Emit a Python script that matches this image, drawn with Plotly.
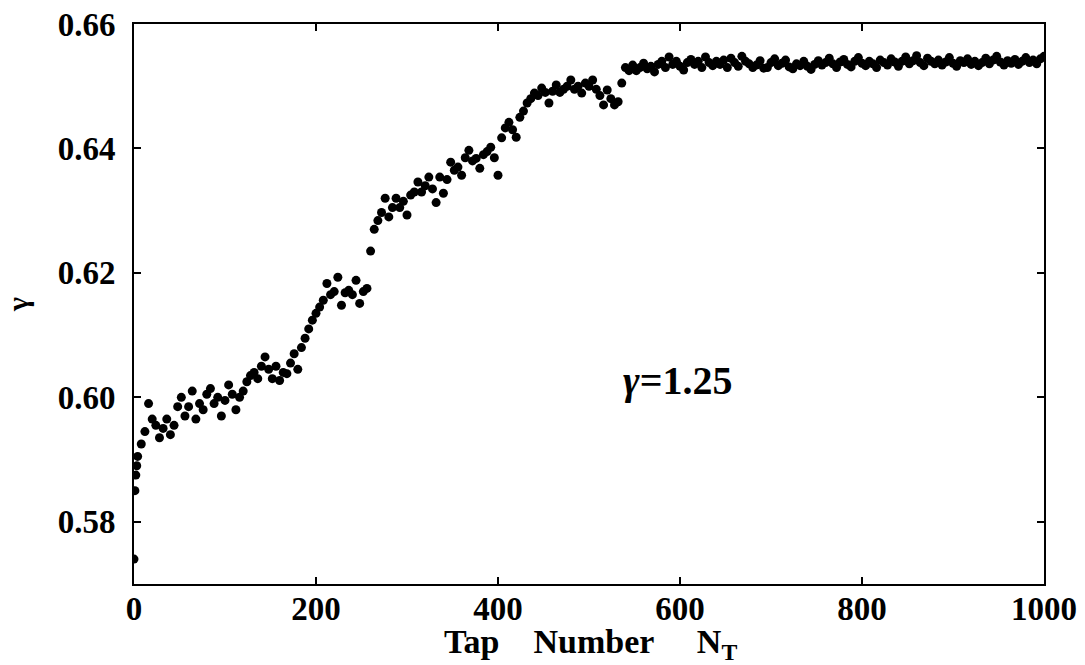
import plotly.graph_objects as go

taps = [0, 1, 2, 3] + list(range(4, 1001, 4))

gamma_vals = [
    0.5740, 0.5850, 0.5875, 0.5890,
    # 4 .. 40
    0.5905, 0.5925, 0.5945, 0.5990, 0.5965, 0.5955, 0.5935, 0.5950, 0.5965, 0.5940,
    # 44 .. 80
    0.5955, 0.5985, 0.6000, 0.5970, 0.5985, 0.6010, 0.5965, 0.5990, 0.5980, 0.6005,
    # 84 .. 120
    0.6014, 0.5990, 0.6000, 0.5970, 0.5995, 0.6020, 0.6005, 0.5980, 0.6000, 0.6010,
    # 124 .. 160
    0.6025, 0.6035, 0.6040, 0.6030, 0.6050, 0.6065, 0.6045, 0.6030, 0.6050, 0.6027,
    # 164 .. 200
    0.6040, 0.6038, 0.6055, 0.6070, 0.6045, 0.6080, 0.6095, 0.6110, 0.6124, 0.6135,
    # 204 .. 240
    0.6145, 0.6156, 0.6183, 0.6165, 0.6170, 0.6193, 0.6148, 0.6168, 0.6172, 0.6165,
    # 244 .. 280
    0.6188, 0.6151, 0.6170, 0.6175, 0.6235, 0.6270, 0.6284, 0.6297, 0.6320, 0.6290,
    # 284 .. 320
    0.6305, 0.6320, 0.6305, 0.6315, 0.6293, 0.6325, 0.6330, 0.6346, 0.6330, 0.6340,
    # 324 .. 360
    0.6354, 0.6335, 0.6313, 0.6354, 0.6328, 0.6350, 0.6378, 0.6365, 0.6370, 0.6357,
    # 364 .. 400
    0.6385, 0.6397, 0.6380, 0.6384, 0.6368, 0.6390, 0.6395, 0.6402, 0.6385, 0.6357,
    # 404 .. 440
    0.6417, 0.6433, 0.6442, 0.6430, 0.6418, 0.6450, 0.6460, 0.6473, 0.6480, 0.6489,
    # 444 .. 480
    0.6485, 0.6497, 0.6490, 0.6473, 0.6492, 0.6502, 0.6490, 0.6495, 0.6500, 0.6510,
    # 484 .. 520
    0.6495, 0.6500, 0.6489, 0.6505, 0.6500, 0.6510, 0.6495, 0.6485, 0.6470, 0.6494,
    # 524 .. 560
    0.6480, 0.6470, 0.6475, 0.6505, 0.6530, 0.6525, 0.6534, 0.6525, 0.6530, 0.6537,
    # 564 .. 600
    0.6528, 0.6532, 0.6523, 0.6535, 0.6540, 0.6530, 0.6547, 0.6535, 0.6540, 0.6532,
    # 604 .. 640
    0.6526, 0.6538, 0.6543, 0.6535, 0.6540, 0.6530, 0.6547, 0.6538, 0.6533, 0.6540,
    # 644 .. 680
    0.6535, 0.6542, 0.6530, 0.6545, 0.6538, 0.6532, 0.6548, 0.6540, 0.6536, 0.6530,
    # 684 .. 720
    0.6534, 0.6541, 0.6529, 0.6530, 0.6538, 0.6544, 0.6533, 0.6537, 0.6542, 0.6531,
    # 724 .. 760
    0.6528, 0.6536, 0.6533, 0.6540, 0.6532, 0.6527, 0.6535, 0.6541, 0.6534, 0.6538,
    # 764 .. 800
    0.6545, 0.6536, 0.6530, 0.6539, 0.6543, 0.6535, 0.6531, 0.6540, 0.6546, 0.6537,
    # 804 .. 840
    0.6533, 0.6540, 0.6536, 0.6530, 0.6542, 0.6538, 0.6534, 0.6544, 0.6539, 0.6532,
    # 844 .. 880
    0.6540, 0.6547, 0.6536, 0.6541, 0.6549, 0.6538, 0.6533, 0.6545, 0.6540, 0.6536,
    # 884 .. 920
    0.6542, 0.6534, 0.6539, 0.6546, 0.6537, 0.6532, 0.6541, 0.6538, 0.6544, 0.6535,
    # 924 .. 960
    0.6540, 0.6533, 0.6538, 0.6545, 0.6536, 0.6542, 0.6548, 0.6539, 0.6534, 0.6541,
    # 964 .. 1000
    0.6537, 0.6543, 0.6535, 0.6540, 0.6546, 0.6538, 0.6542, 0.6536, 0.6544, 0.6548,
]

x_tick_vals = [0, 200, 400, 600, 800, 1000]
x_tick_text = ["0", "200", "400", "600", "800", "1000"]
y_tick_vals = [0.58, 0.60, 0.62, 0.64, 0.66]
y_tick_text = ["0.58", "0.60", "0.62", "0.64", "0.66"]

font_fam = "Liberation Serif"

fig = go.Figure()
fig.add_trace(go.Scatter(
    x=taps, y=gamma_vals, mode="markers",
    marker=dict(color="black", size=9, line=dict(width=0)),
    showlegend=False,
))

axis_common = dict(
    showline=True, linecolor="black", linewidth=2, mirror="ticks",
    ticks="inside", ticklen=7, tickwidth=2, tickcolor="black",
    showgrid=False, zeroline=False, automargin=False,
    tickfont=dict(family=font_fam, size=33, color="black", weight="bold"),
)

fig.update_xaxes(
    range=[0, 1000], tickvals=x_tick_vals, ticktext=x_tick_text,
    ticklabelstandoff=-6,
    **axis_common,
)
fig.update_yaxes(
    range=[0.57, 0.66], tickvals=y_tick_vals, ticktext=y_tick_text,
    ticklabelstandoff=10,
    title=dict(text="γ", standoff=20,
               font=dict(family=font_fam, size=30, color="black", weight="bold")),
    **axis_common,
)

# x-axis title (placed as paper annotation so it sits below tick labels)
fig.add_annotation(
    x=0.502, y=-0.148, xref="paper", yref="paper", showarrow=False,
    xanchor="center", yanchor="bottom",
    text="Tap&nbsp;&nbsp;&nbsp;&nbsp;Number&nbsp;&nbsp;&nbsp;&nbsp;&nbsp;N<sub>T</sub>",
    font=dict(family=font_fam, size=34, color="black", weight="bold"),
)

fig.add_annotation(
    x=597, y=0.6027, xref="x", yref="y", showarrow=False,
    text="<i>γ</i>=1.25",
    font=dict(family=font_fam, size=40, color="black", weight="bold"),
)

fig.update_layout(
    width=1085, height=665,
    margin=dict(l=134, r=41, t=24, b=81),
    paper_bgcolor="white", plot_bgcolor="white",
)

fig.write_html("out.html")
